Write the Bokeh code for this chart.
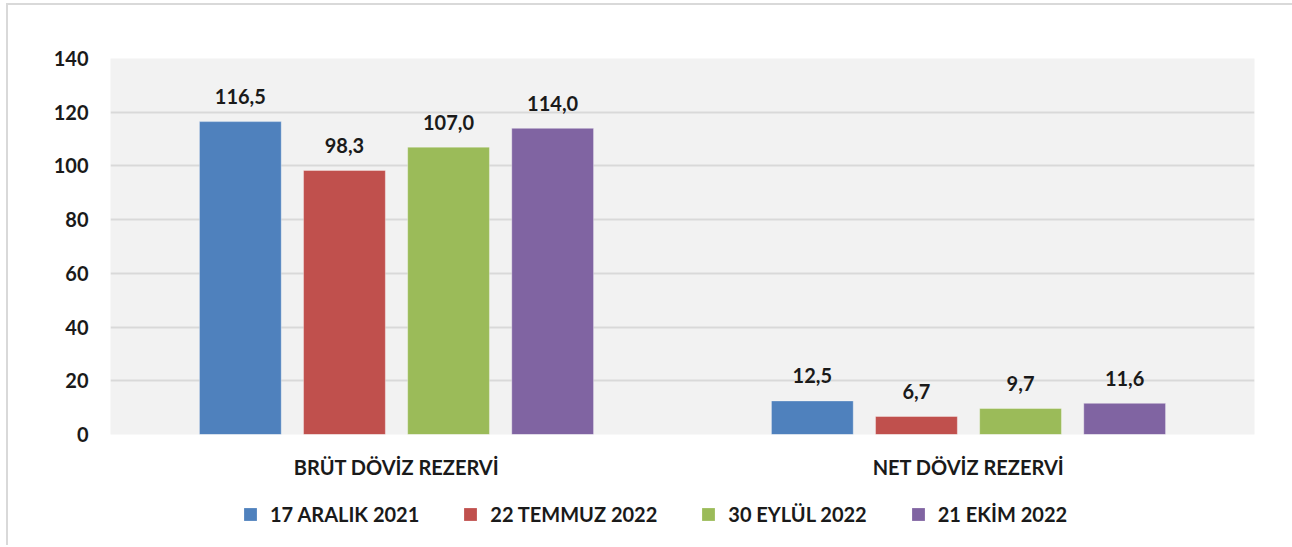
from bokeh.plotting import figure
from bokeh.layouts import column
from bokeh.models import FactorRange, Range1d, Legend, LegendItem, ColumnDataSource, FixedTicker
from bokeh.transform import dodge
from bokeh.core.properties import value
from bokeh.embed import file_html
from bokeh.resources import INLINE

categories = ["BRÜT DÖVİZ REZERVİ", "NET DÖVİZ REZERVİ"]
series_names = ["17 ARALIK 2021", "22 TEMMUZ 2022", "30 EYLÜL 2022", "21 EKİM 2022"]
values_17_aralik_2021 = [116.5, 12.5]
values_22_temmuz_2022 = [98.3, 6.7]
values_30_eylul_2022 = [107.0, 9.7]
values_21_ekim_2022 = [114.0, 11.6]
y_ticks = [0, 20, 40, 60, 80, 100, 120, 140]

series_values = [values_17_aralik_2021, values_22_temmuz_2022, values_30_eylul_2022, values_21_ekim_2022]
colors = ["#4F81BD", "#C0504D", "#9BBB59", "#8064A2"]
offsets = [-0.273, -0.091, 0.091, 0.273]
bar_width = 0.143
FONT = "Lato"
TXT = "#1a1a1a"
W = 1284

p = figure(
    x_range=FactorRange(factors=categories, range_padding=0),
    y_range=Range1d(0, 140),
    width=W, height=485,
    output_backend="svg", toolbar_location=None,
    min_border_left=102, min_border_right=38, min_border_top=53, min_border_bottom=56,
)
p.background_fill_color = "#F2F2F2"
p.border_fill_color = "white"
p.outline_line_color = None

# strip below the chart that carries the legend
pl = figure(
    x_range=p.x_range, y_range=Range1d(0, 1),
    width=W, height=55,
    output_backend="svg", toolbar_location=None,
    min_border_left=102, min_border_right=38, min_border_top=0, min_border_bottom=0,
)
pl.axis.visible = False
pl.grid.visible = False
pl.outline_line_color = None
pl.border_fill_color = "white"
pl.background_fill_color = "white"

items = []
for name, vals, col, off in zip(series_names, series_values, colors, offsets):
    src = ColumnDataSource(dict(
        x=categories, y=vals,
        label=[f"{v:.1f}".replace(".", ",") for v in vals],
    ))
    p.vbar(x=dodge("x", off, range=p.x_range), top="y", width=bar_width, source=src,
           fill_color=col, line_color="white", line_alpha=0.35, line_width=1)
    p.text(x=dodge("x", off, range=p.x_range), y="y", text="label", source=src,
           text_align="center", text_baseline="alphabetic", y_offset=-25,
           text_font=value(FONT), text_font_style="bold", text_font_size="20px",
           text_color=TXT)
    lr = pl.vbar(x=dodge("x", off, range=p.x_range), top="y", width=bar_width, source=src,
                 fill_color=col, line_color=None, visible=False)
    items.append(LegendItem(label=name, renderers=[lr]))

p.xgrid.visible = False
p.ygrid.grid_line_color = "#D9D9D9"
p.ygrid.grid_line_width = 2
p.yaxis.ticker = FixedTicker(ticks=y_ticks)

for ax in (p.xaxis[0], p.yaxis[0]):
    ax.axis_line_color = None
    ax.major_tick_line_color = None
    ax.minor_tick_line_color = None
    ax.major_tick_out = 0
    ax.major_tick_in = 0
    ax.major_label_text_font = FONT
    ax.major_label_text_font_style = "bold"
    ax.major_label_text_color = TXT

p.yaxis.major_label_standoff = 22
p.yaxis.major_label_text_font_size = "20px"
p.xaxis.major_label_standoff = 20
p.xaxis.major_label_text_font_size = "20px"

legend = Legend(
    items=items, orientation="horizontal", location=(132, 19),
    glyph_width=16, glyph_height=16, label_standoff=12, spacing=43,
    padding=0, margin=0, border_line_color=None, background_fill_alpha=0,
    inactive_fill_alpha=0,
    label_text_font=FONT, label_text_font_style="bold", label_text_font_size="20px",
    label_text_color=TXT, label_height=16,
)
pl.add_layout(legend, "center")

layout = column(p, pl, spacing=0, styles={
    "margin-top": "3px", "margin-left": "6px",
    "border-top": "2px solid #D9D9D9", "border-left": "2px solid #D9D9D9",
})
open("out.html", "w").write(file_html(layout, INLINE))
